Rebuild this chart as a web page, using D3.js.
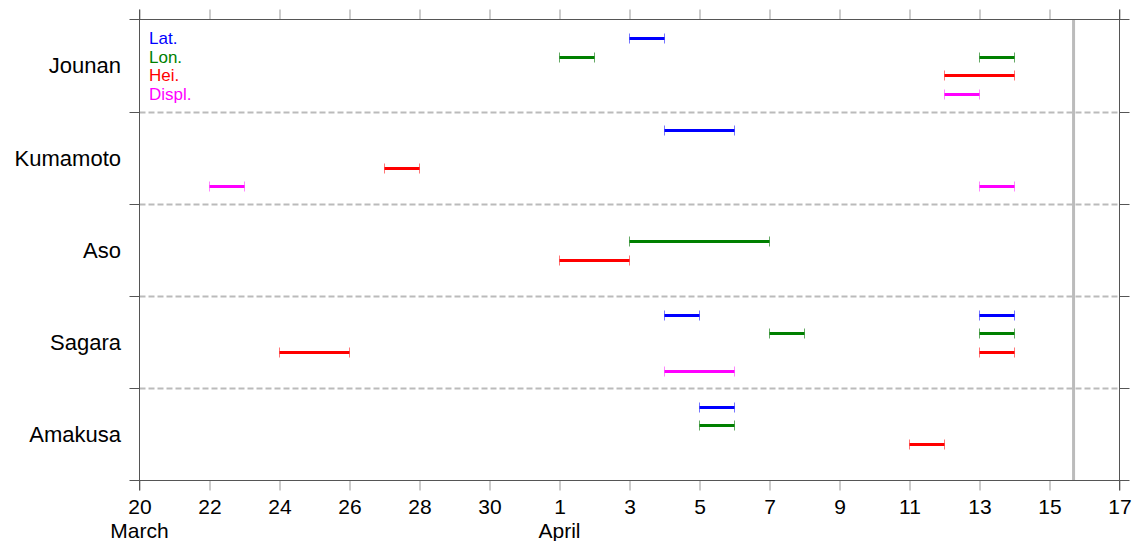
<!DOCTYPE html>
<html>
<head>
<meta charset="utf-8">
<script src="https://cdn.jsdelivr.net/npm/d3@7"></script>
<style>
    body { margin: 0; background: #fff; }
    svg { display: block; font-family: "Liberation Sans", Arial, sans-serif; }
</style>
</head>
<body>
<div id="chart"></div>
<script>
(function () {
    // stations (top to bottom) and GNSS components
    var stations = ["Jounan", "Kumamoto", "Aso", "Sagara", "Amakusa"];
    var components = ["Lat.", "Lon.", "Hei.", "Displ."];
    var compColors = ["#0000ff", "#008000", "#ff0000", "#ff00ff"];
    var capColors = ["#7777ff", "#66aa66", "#ff7777", "#ff88ff"];

    // anomaly periods per component: [station, start, end]
    var latSpans = [
        ["Jounan", "2016-04-03", "2016-04-04"],
        ["Kumamoto", "2016-04-04", "2016-04-06"],
        ["Sagara", "2016-04-04", "2016-04-05"],
        ["Sagara", "2016-04-13", "2016-04-14"],
        ["Amakusa", "2016-04-05", "2016-04-06"]
    ];
    var lonSpans = [
        ["Jounan", "2016-04-01", "2016-04-02"],
        ["Jounan", "2016-04-13", "2016-04-14"],
        ["Aso", "2016-04-03", "2016-04-07"],
        ["Sagara", "2016-04-07", "2016-04-08"],
        ["Sagara", "2016-04-13", "2016-04-14"],
        ["Amakusa", "2016-04-05", "2016-04-06"]
    ];
    var heiSpans = [
        ["Jounan", "2016-04-12", "2016-04-14"],
        ["Kumamoto", "2016-03-27", "2016-03-28"],
        ["Aso", "2016-04-01", "2016-04-03"],
        ["Sagara", "2016-03-24", "2016-03-26"],
        ["Sagara", "2016-04-13", "2016-04-14"],
        ["Amakusa", "2016-04-11", "2016-04-12"]
    ];
    var displSpans = [
        ["Jounan", "2016-04-12", "2016-04-13"],
        ["Kumamoto", "2016-03-22", "2016-03-23"],
        ["Kumamoto", "2016-04-13", "2016-04-14"],
        ["Sagara", "2016-04-04", "2016-04-06"]
    ];
    var compSpans = [latSpans, lonSpans, heiSpans, displSpans];

    // x axis ticks and the month names under the first tick of each month
    var tickDates = ["2016-03-20", "2016-03-22", "2016-03-24", "2016-03-26", "2016-03-28", "2016-03-30",
        "2016-04-01", "2016-04-03", "2016-04-05", "2016-04-07", "2016-04-09", "2016-04-11",
        "2016-04-13", "2016-04-15", "2016-04-17"];
    var monthLabels = [["2016-03-20", "March"], ["2016-04-01", "April"]];
    var mainshock = "2016-04-15T16:30";

    var W = 1137, H = 541;
    var left = 139.5, right = 1119.5, top = 19.5, bottom = 480.5;
    var parse = d3.utcParse("%Y-%m-%d");
    var parseT = d3.utcParse("%Y-%m-%dT%H:%M");

    var x = d3.scaleUtc()
        .domain([parse("2016-03-20"), parse("2016-04-17")])
        .range([left, right]);
    var y = d3.scaleBand().domain(stations).range([top, bottom]);
    var row = d3.scalePoint().domain(components).range([18.5, 74.5]);

    var svg = d3.select("#chart").append("svg")
        .attr("width", W)
        .attr("height", H);

    // band separators
    svg.append("g").selectAll("line")
        .data(stations.slice(1))
        .enter().append("line")
        .attr("x1", left).attr("x2", right)
        .attr("y1", function (d) { return Math.round(y(d)) + 0.5; })
        .attr("y2", function (d) { return Math.round(y(d)) + 0.5; })
        .attr("stroke", "#bbbbbb")
        .attr("stroke-width", 2)
        .attr("stroke-dasharray", "6,3");

    // mainshock marker
    svg.append("line")
        .attr("x1", x(parseT(mainshock))).attr("x2", x(parseT(mainshock)))
        .attr("y1", top).attr("y2", bottom)
        .attr("stroke", "#bbbbbb")
        .attr("stroke-width", 3);

    // axes
    var xBottom = d3.axisBottom(x)
        .tickValues(tickDates.map(parse))
        .tickSize(10)
        .tickFormat(d3.utcFormat("%-d"));
    var gB = svg.append("g").attr("transform", "translate(0," + bottom + ")").call(xBottom);
    gB.select(".domain").remove();
    gB.selectAll(".tick line").attr("stroke", "#999");
    gB.selectAll(".tick text")
        .attr("y", 0).attr("dy", 0)
        .attr("transform", "translate(0,33.5)")
        .attr("font-size", 21).attr("fill", "#000")
        .attr("font-family", "Liberation Sans, Arial, sans-serif");

    var xTop = d3.axisTop(x).tickValues(tickDates.map(parse)).tickSize(10).tickFormat("");
    var gT = svg.append("g").attr("transform", "translate(0," + top + ")").call(xTop);
    gT.select(".domain").remove();
    gT.selectAll(".tick line").attr("stroke", "#999");

    svg.append("g").selectAll("text")
        .data(monthLabels)
        .enter().append("text")
        .attr("x", function (d) { return x(parse(d[0])); })
        .attr("y", 538)
        .attr("text-anchor", "middle")
        .attr("font-size", 21)
        .text(function (d) { return d[1]; });

    // frame lines
    var frame = svg.append("g").attr("stroke", "#555").attr("stroke-width", 1);
    frame.append("line").attr("x1", left - 10).attr("x2", right + 10).attr("y1", top).attr("y2", top);
    frame.append("line").attr("x1", left - 10).attr("x2", right + 10).attr("y1", bottom).attr("y2", bottom);
    frame.append("line").attr("x1", left).attr("x2", left).attr("y1", top - 10).attr("y2", bottom + 10);
    frame.append("line").attr("x1", right).attr("x2", right).attr("y1", top - 10).attr("y2", bottom + 10);
    frame.selectAll(".sep")
        .data(stations.slice(1))
        .enter().append("line")
        .attr("class", "sep")
        .attr("x1", left - 10).attr("x2", left)
        .attr("y1", function (d) { return Math.round(y(d)) + 0.5; })
        .attr("y2", function (d) { return Math.round(y(d)) + 0.5; });
    frame.selectAll(".sepR")
        .data(stations.slice(1))
        .enter().append("line")
        .attr("class", "sepR")
        .attr("x1", right).attr("x2", right + 10)
        .attr("y1", function (d) { return Math.round(y(d)) + 0.5; })
        .attr("y2", function (d) { return Math.round(y(d)) + 0.5; });

    // station names
    svg.append("g").selectAll("text")
        .data(stations)
        .enter().append("text")
        .attr("x", 121)
        .attr("y", function (d) { return y(d) + y.bandwidth() / 2; })
        .attr("dy", "0.35em")
        .attr("text-anchor", "end")
        .attr("font-size", 22)
        .text(function (d) { return d; });

    // legend
    svg.append("g").selectAll("text")
        .data(components)
        .enter().append("text")
        .attr("x", 149)
        .attr("y", function (d) { return y(stations[0]) + row(d); })
        .attr("dy", "0.36em")
        .attr("font-size", 17)
        .attr("fill", function (d, i) { return compColors[i]; })
        .text(function (d) { return d; });

    // anomaly bars with end caps
    components.forEach(function (c, i) {
        var g = svg.append("g");
        var spans = compSpans[i];
        var yPos = function (d) { return Math.round(y(d[0]) + row(c)) + 0.5; };
        g.selectAll(".cap")
            .data(spans.flatMap(function (d) { return [[d[0], d[1]], [d[0], d[2]]]; }))
            .enter().append("line")
            .attr("x1", function (d) { return x(parse(d[1])); })
            .attr("x2", function (d) { return x(parse(d[1])); })
            .attr("y1", function (d) { return yPos(d) - 5; })
            .attr("y2", function (d) { return yPos(d) + 5; })
            .attr("stroke", capColors[i])
            .attr("stroke-width", 1);
        g.selectAll(".bar")
            .data(spans)
            .enter().append("line")
            .attr("x1", function (d) { return x(parse(d[1])); })
            .attr("x2", function (d) { return x(parse(d[2])); })
            .attr("y1", yPos)
            .attr("y2", yPos)
            .attr("stroke", compColors[i])
            .attr("stroke-width", 3);
    });
})();
</script>
</body>
</html>
